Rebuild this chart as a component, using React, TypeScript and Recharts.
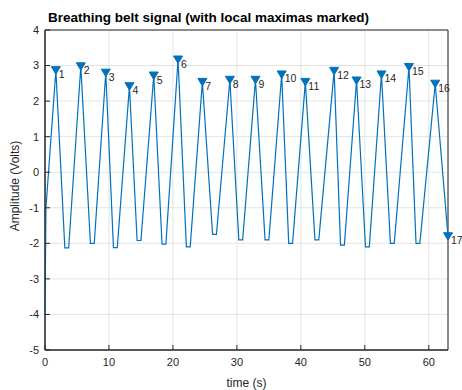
import React from 'react'
import { ComposedChart, Line, Scatter, XAxis, YAxis, CartesianGrid, ReferenceArea } from 'recharts'

// breathing belt trace: turning points (time s, volts)
// each trough has a short flat bottom, so it is given as two points
const time = [
  0, 0.15, 1.7, 3.1, 3.7, 5.6, 7.1, 7.7, 9.5, 10.7, 11.3, 13.2, 14.4, 15.0, 17.0, 18.3, 18.9,
  20.8, 22.1, 22.7, 24.6, 26.2, 26.8, 28.9, 30.3, 30.9, 32.9, 34.4, 35.0, 37.0, 38.1, 38.7,
  40.7, 42.2, 42.8, 45.2, 46.2, 46.8, 48.7, 50.1, 50.7, 52.6, 54.0, 54.6, 56.9, 58.0, 58.6,
  61.0, 63.0,
]
const amp = [
  -3.9, -1.0, 2.87, -2.13, -2.13, 2.98, -2.0, -2.0, 2.8, -2.12, -2.12, 2.42, -1.92, -1.92, 2.72, -2.02, -2.02,
  3.17, -2.1, -2.1, 2.54, -1.75, -1.75, 2.6, -1.9, -1.9, 2.6, -1.9, -1.9, 2.75, -2.0, -2.0,
  2.54, -1.9, -1.9, 2.85, -2.05, -2.05, 2.58, -2.1, -2.1, 2.75, -2.0, -2.0, 2.96, -2.0, -2.0,
  2.49, -1.8,
]

// local maxima
const peakTime = [1.7, 5.6, 9.5, 13.2, 17.0, 20.8, 24.6, 28.9, 32.9, 37.0, 40.7, 45.2, 48.7, 52.6, 56.9, 61.0, 63.0]
const peakAmp = [2.87, 2.98, 2.8, 2.42, 2.72, 3.17, 2.54, 2.6, 2.6, 2.75, 2.54, 2.85, 2.58, 2.75, 2.96, 2.49, -1.8]

const xTicks = [0, 10, 20, 30, 40, 50, 60]
const yTicks = [-5, -4, -3, -2, -1, 0, 1, 2, 3, 4]

const signal = time.map((t, i) => ({ t, v: amp[i] }))
const peaks = peakTime.map((t, i) => ({ t, v: peakAmp[i], n: i + 1 }))

const BLUE = '#0072BD'
const INK = '#262626'
const FONT = '"Liberation Sans", Arial, sans-serif'

const PeakMarker = (props: any) => {
  const { cx, cy, payload } = props
  if (cx == null || cy == null) return null
  return (
    <g>
      <polygon points={`${cx - 4.5},${cy - 3.5} ${cx + 4.5},${cy - 3.5} ${cx},${cy + 4}`} fill={BLUE} stroke={BLUE} />
      <text x={cx + 3} y={cy + 4} dominantBaseline="central" fontSize={10.5} fontFamily={FONT} fill={INK}>
        {payload.n}
      </text>
    </g>
  )
}

const YLabel = () => (
  <text x={15} y={186} transform="rotate(-90 15 186)" textAnchor="middle" dominantBaseline="central"
    fontSize={12} fontFamily={FONT} fill={INK}>
    Amplitude (Volts)
  </text>
)

export default function App() {
  return (
    <div style={{ position: 'absolute', left: 0, top: 0, width: 462, height: 390, background: '#fff' }}>
      <div style={{ position: 'absolute', left: 48, top: 10, fontFamily: FONT, fontWeight: 'bold', fontSize: 13.5, color: '#000', whiteSpace: 'nowrap' }}>
        Breathing belt signal (with local maximas marked)
      </div>
      <ComposedChart width={462} height={390} margin={{ top: 30, right: 14, left: 0, bottom: 0 }}>
        <CartesianGrid stroke="#e3e3e3" />
        <XAxis
          dataKey="t" type="number" domain={[0, 63]} ticks={xTicks}
          height={40} tickSize={-5} tickMargin={13}
          tick={{ fontSize: 11, fill: INK, fontFamily: FONT }}
          axisLine={{ stroke: INK }} tickLine={{ stroke: INK }}
          label={{ value: 'time (s)', position: 'insideBottom', offset: 3, fontSize: 12, fill: INK, fontFamily: FONT }}
        />
        <YAxis
          type="number" domain={[-5, 4]} ticks={yTicks}
          width={45} tickSize={-5} tickMargin={11}
          tick={{ fontSize: 11, fill: INK, fontFamily: FONT }}
          axisLine={{ stroke: INK }} tickLine={{ stroke: INK }}
          label={{ content: () => <YLabel /> }}
        />
        <ReferenceArea x1={0} x2={63} y1={-5} y2={4} fill="none" stroke={INK} strokeWidth={1} ifOverflow="visible" />
        <Line data={signal} dataKey="v" type="linear" stroke={BLUE} strokeWidth={1.2} dot={false} isAnimationActive={false} />
        <Scatter data={peaks} dataKey="v" shape={<PeakMarker />} isAnimationActive={false} />
      </ComposedChart>
    </div>
  )
}
